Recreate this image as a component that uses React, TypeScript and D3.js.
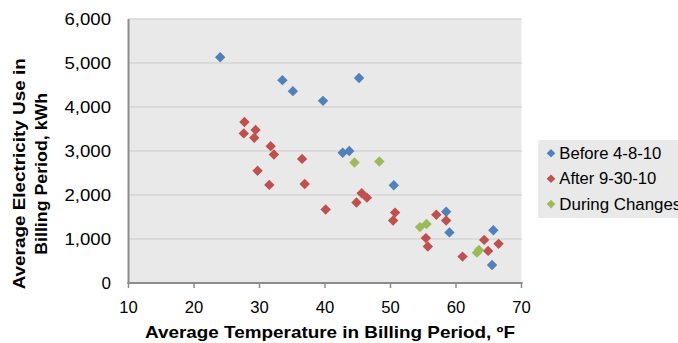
import React from "react";
import * as d3 from "d3";

const xTicks = [10, 20, 30, 40, 50, 60, 70];
const yTicks = [0, 1000, 2000, 3000, 4000, 5000, 6000];

const beforeTemp = [24.0, 33.5, 35.1, 39.7, 45.2, 42.7, 43.7, 50.5, 58.5, 59.0, 65.7, 65.5];
const beforeKwh = [5130, 4610, 4360, 4140, 4660, 2960, 3000, 2220, 1620, 1150, 1200, 410];

const afterTemp = [27.7, 27.6, 29.4, 29.2, 31.7, 32.2, 36.5, 29.7, 31.5, 36.9, 40.1, 44.8, 45.6, 46.4, 50.7, 50.4, 57.0, 58.5, 55.4, 55.7, 61.0, 64.3, 64.9, 66.5];
const afterKwh = [3660, 3400, 3480, 3300, 3110, 2920, 2820, 2550, 2230, 2250, 1670, 1830, 2040, 1940, 1600, 1420, 1550, 1420, 1020, 830, 600, 980, 730, 890];

const duringTemp = [44.5, 48.3, 54.5, 55.5, 63.2, 63.5];
const duringKwh = [2740, 2760, 1270, 1340, 690, 750];

const seriesNames = ["Before 4-8-10", "After 9-30-10", "During Changes"];
const seriesColors = ["#4F81BD", "#C0504D", "#9BBB59"];
const legendWidths = [102, 97, 122];

const W = 678;
const H = 343;
const plot = { left: 128.5, right: 521.5, top: 19, bottom: 283 };

const diamond = (cx: number, cy: number, r: number) =>
  `M${cx},${cy - r}L${cx + r},${cy}L${cx},${cy + r}L${cx - r},${cy}Z`;

export default function App() {
  const x = d3.scaleLinear().domain([10, 70]).range([plot.left, plot.right]);
  const y = d3.scaleLinear().domain([0, 6000]).range([plot.bottom, plot.top]);
  const fmt = d3.format(",");

  const series = [
    { name: seriesNames[0], color: seriesColors[0], xs: beforeTemp, ys: beforeKwh },
    { name: seriesNames[1], color: seriesColors[1], xs: afterTemp, ys: afterKwh },
    { name: seriesNames[2], color: seriesColors[2], xs: duringTemp, ys: duringKwh },
  ];

  const font = "'Liberation Sans', Arial, sans-serif";

  return (
    <svg
      width={W}
      height={H}
      style={{ position: "fixed", left: 0, top: 0, background: "#fff" }}
      fontFamily={font}
    >
      <rect
        x={plot.left}
        y={plot.top}
        width={plot.right - plot.left}
        height={plot.bottom - plot.top}
        fill="#e9e9e9"
      />
      {yTicks.map((t) => (
        <line
          key={"g" + t}
          x1={plot.left}
          x2={plot.right}
          y1={y(t)}
          y2={y(t)}
          stroke="#d4d4d4"
          strokeWidth={1.5}
        />
      ))}
      {yTicks.map((t) => (
        <text
          key={"yl" + t}
          x={111}
          y={y(t)}
          dy="0.36em"
          textAnchor="end"
          fontSize={17}
          fill="#000"
          {...(t >= 1000 ? { textLength: 46.5, lengthAdjust: "spacingAndGlyphs" } : {})}
        >
          {fmt(t)}
        </text>
      ))}
      {xTicks.map((t) => (
        <line
          key={"xt" + t}
          x1={x(t)}
          x2={x(t)}
          y1={plot.bottom}
          y2={plot.bottom + 5}
          stroke="#8c8c8c"
          strokeWidth={1.5}
        />
      ))}
      {xTicks.map((t) => (
        <text
          key={"xl" + t}
          x={x(t)}
          y={312.5}
          textAnchor="middle"
          fontSize={16}
          fill="#000"
          textLength={18.5}
          lengthAdjust="spacingAndGlyphs"
        >
          {t}
        </text>
      ))}
      <line x1={plot.left} x2={plot.left} y1={plot.top} y2={plot.bottom + 1} stroke="#8c8c8c" strokeWidth={2} />
      <line x1={plot.left - 1} x2={plot.right + 1} y1={plot.bottom} y2={plot.bottom} stroke="#8c8c8c" strokeWidth={2} />

      {series.map((s) => (
        <g key={s.name}>
          {s.xs.map((v, i) => (
            <path key={i} d={diamond(x(v), y(s.ys[i]), 5.2)} fill={s.color} />
          ))}
        </g>
      ))}

      <text
        x={330}
        y={338.3}
        textAnchor="middle"
        fontSize={16.5}
        fontWeight="bold"
        textLength={370}
        lengthAdjust="spacingAndGlyphs"
      >
        Average Temperature in Billing Period, ºF
      </text>
      <text
        transform="translate(25,173.8) rotate(-90)"
        textAnchor="middle"
        fontSize={16.8}
        fontWeight="bold"
        textLength={231}
        lengthAdjust="spacingAndGlyphs"
      >
        Average Electricity Use in
      </text>
      <text
        transform="translate(46.7,173.8) rotate(-90)"
        textAnchor="middle"
        fontSize={16.8}
        fontWeight="bold"
        textLength={162}
        lengthAdjust="spacingAndGlyphs"
      >
        Billing Period, kWh
      </text>

      <rect x={538.3} y={140} width={150} height={78} fill="#e9e9e9" />
      {series.map((s, i) => (
        <g key={"lg" + s.name}>
          <path d={diamond(551, 153.3 + i * 25.4, 4.3)} fill={s.color} />
          <text
            x={559.3}
            y={158.7 + i * 25.4}
            fontSize={16}
            fill="#000"
            textLength={legendWidths[i]}
            lengthAdjust="spacingAndGlyphs"
          >
            {s.name}
          </text>
        </g>
      ))}
    </svg>
  );
}
